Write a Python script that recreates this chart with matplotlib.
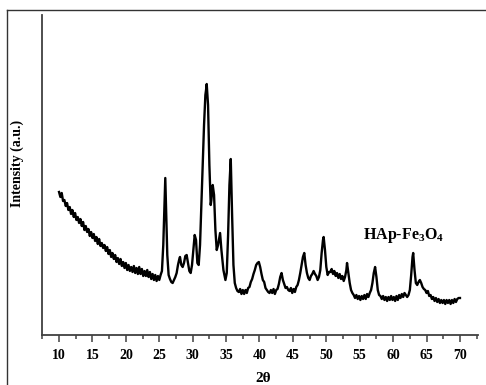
import matplotlib
matplotlib.use("Agg")
import matplotlib.pyplot as plt
from matplotlib.lines import Line2D
import numpy as np

two_theta = [
    10.0, 10.2, 10.4, 10.6, 10.8, 11.0, 11.2, 11.4, 11.6, 11.8, 12.0, 12.2, 12.4, 12.6, 12.8,
    13.0, 13.2, 13.4, 13.6, 13.8, 14.0, 14.2, 14.4, 14.6, 14.8, 15.0, 15.2, 15.4, 15.6, 15.8,
    16.0, 16.2, 16.4, 16.6, 16.8, 17.0, 17.2, 17.4, 17.6, 17.8, 18.0, 18.2, 18.4, 18.6, 18.8,
    19.0, 19.2, 19.4, 19.6, 19.8, 20.0, 20.2, 20.4, 20.6, 20.8, 21.0, 21.2, 21.4, 21.6, 21.8,
    22.0, 22.2, 22.4, 22.6, 22.8, 23.0, 23.2, 23.4, 23.6, 23.8, 24.0, 24.2, 24.4, 24.6, 24.8,
    25.0, 25.2, 25.4, 25.6, 25.8, 25.9, 26.0, 26.2, 26.4, 26.6, 26.8, 27.0, 27.2, 27.4, 27.6,
    27.8, 28.0, 28.1, 28.3, 28.5, 28.7, 28.9, 29.1, 29.3, 29.5, 29.7, 29.9, 30.1, 30.3, 30.5,
    30.7, 30.9, 31.1, 31.3, 31.5, 31.7, 31.9, 32.0, 32.1, 32.3, 32.5, 32.7, 32.8, 33.0, 33.2,
    33.4, 33.6, 33.8, 34.1, 34.3, 34.6, 34.9, 35.1, 35.3, 35.5, 35.7, 35.9, 36.1, 36.3, 36.5,
    36.7, 36.9, 37.1, 37.3, 37.5, 37.7, 37.9, 38.1, 38.3, 38.5, 38.7, 38.9, 39.1, 39.3, 39.5,
    39.7, 39.9, 40.1, 40.3, 40.5, 40.7, 40.9, 41.1, 41.3, 41.5, 41.7, 41.9, 42.1, 42.3, 42.5,
    42.7, 42.9, 43.1, 43.3, 43.5, 43.7, 43.9, 44.1, 44.3, 44.5, 44.7, 44.9, 45.1, 45.3, 45.5,
    45.7, 45.9, 46.1, 46.3, 46.5, 46.7, 46.9, 47.1, 47.3, 47.5, 47.7, 47.9, 48.1, 48.3, 48.5,
    48.7, 48.9, 49.1, 49.3, 49.5, 49.6, 49.8, 50.0, 50.2, 50.4, 50.6, 50.8, 51.0, 51.2, 51.4,
    51.6, 51.8, 52.0, 52.2, 52.4, 52.6, 52.8, 53.0, 53.1, 53.3, 53.5, 53.7, 53.9, 54.1, 54.3,
    54.5, 54.7, 54.9, 55.1, 55.3, 55.5, 55.7, 55.9, 56.1, 56.3, 56.5, 56.7, 56.9, 57.1, 57.3,
    57.5, 57.7, 57.9, 58.1, 58.3, 58.5, 58.7, 58.9, 59.1, 59.3, 59.5, 59.7, 59.9, 60.1, 60.3,
    60.5, 60.7, 60.9, 61.1, 61.3, 61.5, 61.7, 61.9, 62.1, 62.3, 62.5, 62.7, 62.9, 63.0, 63.2,
    63.4, 63.6, 63.8, 64.0, 64.2, 64.4, 64.6, 64.8, 65.0, 65.2, 65.4, 65.6, 65.8, 66.0, 66.2,
    66.4, 66.6, 66.8, 67.0, 67.2, 67.4, 67.6, 67.8, 68.0, 68.2, 68.4, 68.6, 68.8, 69.0, 69.2,
    69.4, 69.6, 69.8, 70.0,
]

intensity = [
    143, 138, 142, 134, 135, 129, 132, 125, 128, 121, 125, 118, 122, 115, 118,
    112, 116, 109, 113, 105, 109, 103, 106, 99, 103, 97, 101, 94, 98, 91,
    96, 89, 92, 87, 90, 84, 88, 81, 85, 78, 82, 76, 80, 73, 77,
    71, 76, 69, 73, 67, 72, 65, 70, 64, 68, 63, 69, 62, 67, 61,
    68, 61, 66, 59, 64, 59, 65, 58, 63, 56, 61, 55, 60, 54, 59,
    55, 60, 64, 90, 135, 157, 130, 80, 60, 56, 53, 52, 55, 58, 62,
    70, 76, 78, 70, 68, 72, 79, 80, 72, 64, 62, 70, 85, 100, 95,
    72, 70, 90, 130, 170, 210, 240, 245, 251, 230, 170, 130, 135, 150, 140,
    105, 85, 90, 102, 85, 65, 55, 62, 100, 150, 176, 120, 70, 52, 47,
    44, 43, 46, 41, 45, 41, 45, 42, 47, 48, 53, 56, 61, 65, 70,
    72, 73, 68, 61, 55, 53, 47, 45, 43, 42, 45, 42, 46, 41, 45,
    46, 51, 58, 62, 55, 51, 47, 48, 45, 44, 47, 42, 46, 43, 48,
    50, 55, 62, 70, 78, 82, 70, 62, 57, 55, 59, 61, 64, 61, 59,
    55, 58, 65, 82, 95, 98, 85, 68, 60, 63, 63, 66, 61, 64, 59,
    62, 57, 61, 56, 59, 54, 58, 65, 72, 62, 52, 45, 42, 40, 37,
    40, 36, 39, 35, 39, 36, 40, 36, 41, 38, 42, 45, 52, 62, 68,
    58, 45, 40, 39, 36, 39, 35, 38, 34, 38, 35, 39, 35, 38, 34,
    39, 35, 40, 37, 41, 38, 42, 40, 38, 40, 45, 60, 78, 82, 65,
    52, 50, 53, 55, 52, 48, 46, 45, 42, 44, 39, 40, 36, 38, 34,
    37, 33, 36, 32, 35, 32, 35, 31, 35, 32, 35, 31, 35, 32, 36,
    33, 36, 37, 37,
]

x_ticks = [10, 15, 20, 25, 30, 35, 40, 45, 50, 55, 60, 65, 70]
x_label = "2θ"
y_label = "Intensity (a.u.)"
sample_label = "HAp-Fe$_3$O$_4$"

plt.rcParams["font.family"] = ["Liberation Serif", "DejaVu Serif"]
plt.rcParams["font.weight"] = "bold"
plt.rcParams["mathtext.fontset"] = "custom"
plt.rcParams["mathtext.rm"] = "Liberation Serif:bold"
plt.rcParams["mathtext.bf"] = "Liberation Serif:bold"
plt.rcParams["mathtext.default"] = "rm"

fig = plt.figure(figsize=(4.86, 3.85), dpi=100)
W, H = 486, 385
ax = fig.add_axes([42 / W, 1 - 335 / H, (478 - 42) / W, (335 - 15) / H])

ax.plot(two_theta, intensity, color="black", lw=1.7)

ax.set_xlim(7.45, 72.7)
ax.set_ylim(0, 320)
ax.set_xticks(x_ticks)
ax.set_xticks(np.arange(7.5, 73, 2.5), minor=True)
ax.set_yticks([])
for s in ["top", "right"]:
    ax.spines[s].set_visible(False)
for s in ["left", "bottom"]:
    ax.spines[s].set_color("#404040")
    ax.spines[s].set_linewidth(1.3)
ax.tick_params(axis="x", which="major", direction="out", length=5, width=1.1,
               color="#404040", pad=5, labelsize=10)
ax.tick_params(axis="x", which="minor", direction="out", length=3, width=1.1,
               color="#404040")
for lab in ax.get_xticklabels():
    lab.set_fontweight("bold")

ax.text(55.5, 96, sample_label, fontsize=11.5, fontweight="bold", va="baseline", ha="left")

fig.text(263 / W, 6 / H, x_label, ha="center", va="center", fontsize=11, fontweight="bold")
fig.text(17 / W, 1 - 163 / H, y_label, ha="center", va="center", rotation=90,
         fontsize=10, fontweight="bold")

# outer frame lines (left and top)
fig.add_artist(Line2D([7 / W, 7 / W], [0, 1 - 10 / H], transform=fig.transFigure,
                      color="#333333", lw=1.0))
fig.add_artist(Line2D([7 / W, 1], [1 - 10 / H, 1 - 10 / H], transform=fig.transFigure,
                      color="#333333", lw=1.0))

fig.savefig("out.png", dpi=100)
